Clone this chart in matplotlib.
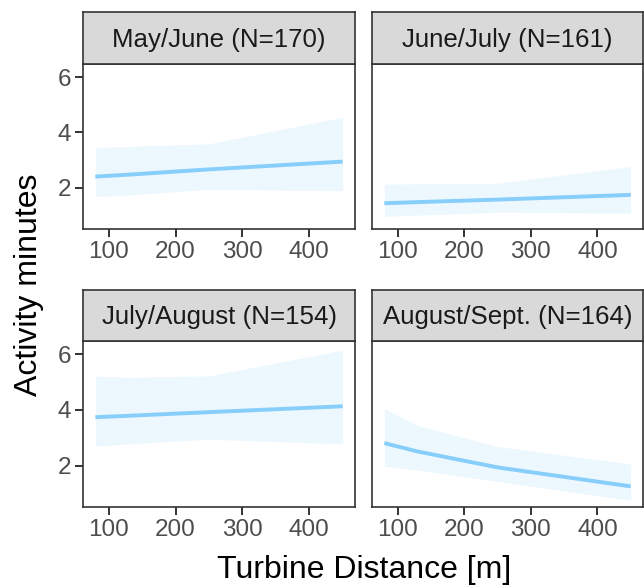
import matplotlib.pyplot as plt

plt.rcParams['font.family'] = ['Liberation Sans', 'DejaVu Sans']

# ── Data ──────────────────────────────────────────────────────────────────────
panel_titles = ["May/June (N=170)", "June/July (N=161)",
                "July/August (N=154)", "August/Sept. (N=164)"]
distance = [80, 130, 250, 450]

fit_may   = [2.41, 2.48, 2.67, 2.95]
low_may   = [1.69, 1.75, 1.95, 1.90]
high_may  = [3.45, 3.50, 3.59, 4.55]

fit_jun   = [1.45, 1.49, 1.58, 1.75]
low_jun   = [0.97, 1.02, 1.12, 1.09]
high_jun  = [2.14, 2.15, 2.17, 2.77]

fit_jul   = [3.74, 3.79, 3.92, 4.13]
low_jul   = [2.70, 2.78, 2.95, 2.78]
high_jul  = [5.21, 5.17, 5.22, 6.14]

fit_aug   = [2.81, 2.51, 1.94, 1.26]
low_aug   = [1.98, 1.84, 1.44, 0.76]
high_aug  = [4.04, 3.44, 2.69, 2.06]

fits  = [fit_may, fit_jun, fit_jul, fit_aug]
lows  = [low_may, low_jun, low_jul, low_aug]
highs = [high_may, high_jun, high_jul, high_aug]

x_ticks = [100, 200, 300, 400]
y_ticks = [2, 4, 6]

# ── Style ─────────────────────────────────────────────────────────────────────
LINE_COL  = "#87CEFA"
STRIP_BG  = "#D9D9D9"
BORDER    = "#333333"
TICK_TXT  = "#4D4D4D"

W, H = 644, 585
fig = plt.figure(figsize=(W / 100, H / 100), dpi=100)

cols = [(83, 355), (372, 643)]
rows = [(12, 64, 229), (290, 341, 507)]   # strip top, panel top, panel bottom


def box(x0, x1, y0, y1):
    return [x0 / W, 1 - y1 / H, (x1 - x0) / W, (y1 - y0) / H]


for i in range(4):
    r, c = divmod(i, 2)
    x0, x1 = cols[c]
    st, pt, pb = rows[r]

    ax = fig.add_axes(box(x0, x1, pt, pb))
    ax.fill_between(distance, lows[i], highs[i], color=LINE_COL, alpha=0.15,
                    linewidth=0)
    ax.plot(distance, fits[i], color=LINE_COL, linewidth=2.8,
            solid_capstyle='butt')
    ax.set_xlim(61.5, 468.5)
    ax.set_ylim(0.52, 6.47)
    ax.set_xticks(x_ticks)
    ax.set_yticks(y_ticks)
    ax.tick_params(length=5.5, width=1.4, color=BORDER, labelcolor=TICK_TXT,
                   labelsize=17.5, pad=3)
    if c == 1:
        ax.tick_params(axis='y', left=False, labelleft=False)
    for sp in ax.spines.values():
        sp.set_color(BORDER)
        sp.set_linewidth(1.2)

    sx = fig.add_axes(box(x0, x1, st, pt))
    sx.set_facecolor(STRIP_BG)
    sx.set_xticks([])
    sx.set_yticks([])
    for sp in sx.spines.values():
        sp.set_color(BORDER)
        sp.set_linewidth(1.2)
    sx.text(0.5, 0.47, panel_titles[i], ha='center', va='center',
            fontsize=18.6, color="#1A1A1A", transform=sx.transAxes)

fig.text(364 / W, 1 - 570 / H, "Turbine Distance [m]", ha='center',
         va='center', fontsize=23, color='black')
fig.text(29 / W, 1 - 285 / H, "Activity minutes", ha='center', va='center',
         rotation=90, fontsize=23, color='black')

plt.savefig('out.png', dpi=100)
